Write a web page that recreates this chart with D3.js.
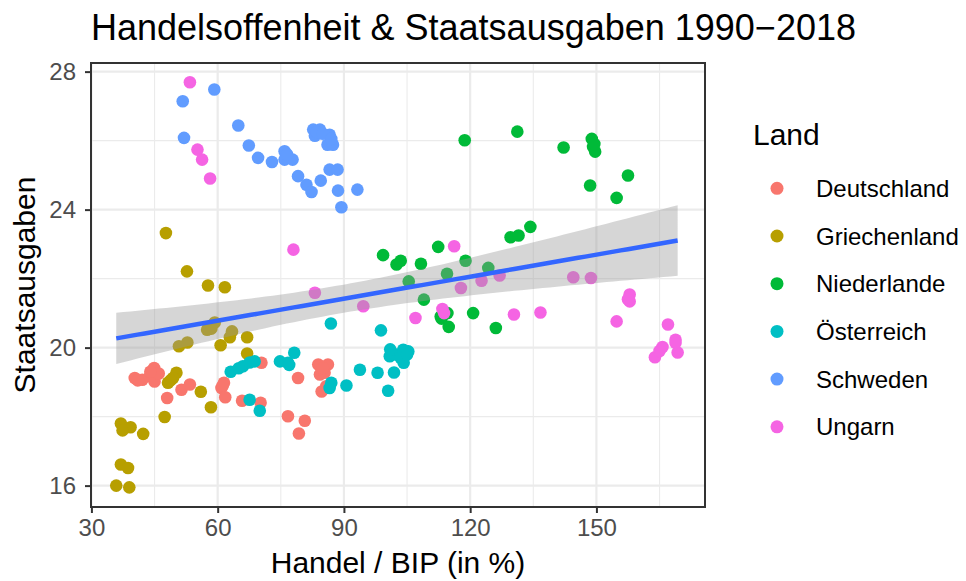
<!DOCTYPE html>
<html>
<head>
<meta charset="utf-8">
<script src="https://cdn.jsdelivr.net/npm/d3@7"></script>
<style>
  body { margin: 0; background: #fff; }
  svg { font-family: "Liberation Sans", Arial, sans-serif; }
</style>
</head>
<body>
<div id="chart"></div>
<script>
// Countries (legend order) and their colours
const laender = ['Deutschland', 'Griechenland', 'Niederlande', 'Österreich', 'Schweden', 'Ungarn'];
const farben = ['#F8766D', '#B79F00', '#00BA38', '#00BFC4', '#619CFF', '#F564E3'];

// Handel / BIP (in %) and Staatsausgaben, 1990-2018
const deutschlandHandel = [40.3, 42.1, 44.9, 43.9, 45.0, 48.0, 51.4, 53.4, 60.9, 61.5, 61.8, 65.8, 70.4, 70.2, 76.7, 79.1, 83.9, 86.2, 84.3, 85.4, 84.7, 85.8, 80.7, 79.3, 41.0, 46.0, 61.2, 85.0, 44.0];
const deutschlandAusgaben = [19.12, 19.07, 19.41, 19.17, 19.02, 18.54, 18.78, 18.93, 18.83, 18.98, 18.56, 18.46, 19.56, 18.40, 18.01, 19.12, 19.51, 19.51, 19.22, 19.27, 18.73, 18.88, 17.88, 17.51, 19.05, 19.25, 18.9, 19.4, 19.3];

const griechenlandHandel = [47.7, 52.7, 57.7, 61.7, 59.3, 57.5, 63.4, 62.9, 67.0, 50.8, 52.8, 60.7, 67.0, 50.2, 48.2, 49.4, 56.0, 58.4, 47.4, 37.0, 39.3, 37.4, 42.3, 37.0, 38.7, 35.9, 39.0, 58.5, 48.8];
const griechenlandAusgaben = [23.32, 22.21, 21.80, 21.75, 20.73, 20.52, 20.47, 20.30, 20.30, 20.04, 20.15, 20.07, 19.83, 19.27, 18.98, 19.12, 18.72, 18.27, 17.99, 17.80, 17.69, 17.60, 17.50, 16.61, 16.51, 16.00, 15.95, 20.55, 19.05];

const niederlandeHandel = [118.7, 131.2, 142.2, 148.9, 149.2, 149.7, 157.5, 148.5, 154.8, 112.4, 99.3, 102.5, 103.5, 108.3, 118.9, 114.5, 105.4, 109.0, 114.6, 113.2, 114.9, 120.7, 124.3, 126.1, 129.6, 131.5, 134.3, 149.5, 113.0];
const niederlandeAusgaben = [26.01, 26.26, 25.80, 26.05, 25.82, 25.68, 24.99, 24.70, 24.34, 22.92, 22.68, 22.41, 22.52, 22.43, 22.52, 22.14, 21.92, 21.39, 21.00, 20.84, 20.60, 21.00, 22.31, 20.57, 23.20, 23.25, 23.50, 25.9, 20.9];

const oesterreichHandel = [63.1, 66.0, 67.6, 68.8, 67.6, 70.0, 74.8, 76.7, 78.2, 87.0, 86.6, 90.6, 93.8, 98.0, 101.9, 100.5, 100.9, 102.5, 104.1, 105.3, 104.2, 86.9, 98.8, 104.1, 103.5, 65.0, 101.0, 77.0, 105.0];
const oesterreichAusgaben = [19.30, 19.46, 19.57, 19.60, 18.49, 18.17, 19.60, 19.56, 19.85, 18.98, 18.83, 18.90, 19.36, 19.27, 19.28, 18.75, 19.75, 19.80, 19.85, 19.89, 19.56, 20.70, 20.50, 19.94, 19.70, 19.40, 19.95, 19.50, 19.80];

const schwedenHandel = [51.7, 59.2, 52.0, 64.9, 67.4, 69.6, 72.9, 75.9, 75.9, 77.8, 82.7, 84.3, 83.1, 86.6, 86.1, 87.4, 79.1, 81.1, 82.3, 84.5, 86.6, 88.5, 88.6, 93.2, 89.4, 83.5, 85.0, 87.0, 76.5];
const schwedenAusgaben = [27.14, 27.48, 26.08, 26.44, 25.86, 25.50, 25.38, 25.69, 25.45, 25.45, 26.32, 26.32, 26.14, 26.17, 25.88, 25.88, 24.97, 24.72, 24.51, 24.84, 25.16, 25.16, 24.55, 24.58, 24.07, 26.25, 26.2, 26.05, 25.6];

const ungarnHandel = [53.4, 55.2, 56.3, 58.2, 78.0, 83.1, 94.6, 107.0, 116.2, 113.4, 117.8, 122.7, 127.0, 130.4, 136.7, 144.5, 148.7, 157.9, 157.9, 154.8, 167.0, 168.8, 169.3, 165.7, 163.9, 168.8, 165.0, 157.5, 113.8];
const ungarnAusgaben = [27.69, 25.74, 25.45, 24.90, 22.84, 21.59, 21.20, 20.86, 22.94, 21.12, 21.73, 21.94, 22.09, 20.96, 21.02, 22.04, 22.02, 21.54, 21.34, 20.76, 20.67, 20.23, 19.86, 20.02, 19.72, 20.14, 19.9, 21.4, 21.0];

// Axis ticks
const xTicks = [30, 60, 90, 120, 150];
const xMinorTicks = [45, 75, 105, 135, 165];
const yTicks = [16, 20, 24, 28];
const yMinorTicks = [18, 22, 26];

const handel = [deutschlandHandel, griechenlandHandel, niederlandeHandel, oesterreichHandel, schwedenHandel, ungarnHandel];
const ausgaben = [deutschlandAusgaben, griechenlandAusgaben, niederlandeAusgaben, oesterreichAusgaben, schwedenAusgaben, ungarnAusgaben];

// Build one flat list of points
function buildPoints() {
    const points = [];
    laender.forEach((land, i) => {
        handel[i].forEach((x, j) => {
            points.push({ land: land, x: x, y: ausgaben[i][j] });
        });
    });
    return points;
}

// Linear model with 95% confidence band (like geom_smooth(method = "lm"))
function linearFit(points) {
    const n = points.length;
    const mx = d3.mean(points, d => d.x);
    const my = d3.mean(points, d => d.y);
    const sxx = d3.sum(points, d => (d.x - mx) ** 2);
    const sxy = d3.sum(points, d => (d.x - mx) * (d.y - my));
    const b = sxy / sxx;
    const a = my - b * mx;
    const rss = d3.sum(points, d => (d.y - a - b * d.x) ** 2);
    const s = Math.sqrt(rss / (n - 2));
    const t = 1.974;
    const [x0, x1] = d3.extent(points, d => d.x);
    return d3.range(80).map(k => {
        const x = x0 + (x1 - x0) * k / 79;
        const fit = a + b * x;
        const se = s * Math.sqrt(1 / n + (x - mx) ** 2 / sxx);
        return { x: x, fit: fit, lo: fit - t * se, hi: fit + t * se };
    });
}

function renderChart(container) {
    const width = 966, height = 581;
    const panel = { left: 91, right: 705, top: 63, bottom: 507 };
    const points = buildPoints();

    const svg = d3.select(container)
        .append('svg')
        .attr('width', width)
        .attr('height', height);

    const x = d3.scaleLinear().domain([29.9, 175.8]).range([panel.left, panel.right]);
    const y = d3.scaleLinear().domain([15.38, 28.25]).range([panel.bottom, panel.top]);
    const color = d3.scaleOrdinal().domain(laender).range(farben);

    // Grid lines
    const grid = svg.append('g');
    grid.selectAll('.xminor').data(xMinorTicks).enter().append('line')
        .attr('x1', d => x(d)).attr('x2', d => x(d))
        .attr('y1', panel.top).attr('y2', panel.bottom)
        .attr('stroke', '#EBEBEB').attr('stroke-width', 1.1);
    grid.selectAll('.yminor').data(yMinorTicks).enter().append('line')
        .attr('y1', d => y(d)).attr('y2', d => y(d))
        .attr('x1', panel.left).attr('x2', panel.right)
        .attr('stroke', '#EBEBEB').attr('stroke-width', 1.1);
    grid.selectAll('.xmajor').data(xTicks).enter().append('line')
        .attr('x1', d => x(d)).attr('x2', d => x(d))
        .attr('y1', panel.top).attr('y2', panel.bottom)
        .attr('stroke', '#EBEBEB').attr('stroke-width', 2.2);
    grid.selectAll('.ymajor').data(yTicks).enter().append('line')
        .attr('y1', d => y(d)).attr('y2', d => y(d))
        .attr('x1', panel.left).attr('x2', panel.right)
        .attr('stroke', '#EBEBEB').attr('stroke-width', 2.2);

    // Points
    svg.append('g').selectAll('circle')
        .data(points)
        .enter()
        .append('circle')
        .attr('cx', d => x(d.x))
        .attr('cy', d => y(d.y))
        .attr('r', 6.3)
        .attr('fill', d => color(d.land));

    // Regression line and confidence band on top of the points
    const fit = linearFit(points);
    svg.append('path')
        .datum(fit)
        .attr('d', d3.area().x(d => x(d.x)).y0(d => y(d.lo)).y1(d => y(d.hi)))
        .attr('fill', '#999999')
        .attr('fill-opacity', 0.4);
    svg.append('path')
        .datum(fit)
        .attr('d', d3.line().x(d => x(d.x)).y(d => y(d.fit)))
        .attr('fill', 'none')
        .attr('stroke', '#3366FF')
        .attr('stroke-width', 4.5);

    // Panel border
    svg.append('rect')
        .attr('x', panel.left).attr('y', panel.top)
        .attr('width', panel.right - panel.left)
        .attr('height', panel.bottom - panel.top)
        .attr('fill', 'none')
        .attr('stroke', '#333333')
        .attr('stroke-width', 2);

    // Axes
    const xAxis = svg.append('g')
        .attr('transform', `translate(0,${panel.bottom})`)
        .call(d3.axisBottom(x).tickValues(xTicks).tickSize(6).tickPadding(6));
    const yAxis = svg.append('g')
        .attr('transform', `translate(${panel.left},0)`)
        .call(d3.axisLeft(y).tickValues(yTicks).tickSize(6).tickPadding(9));
    [xAxis, yAxis].forEach(ax => {
        ax.select('.domain').remove();
        ax.selectAll('line').attr('stroke', '#333333').attr('stroke-width', 2);
        ax.selectAll('text')
            .attr('fill', '#4D4D4D')
            .style('font-size', '24px')
            .style('font-family', '"Liberation Sans", Arial, sans-serif');
    });

    // Titles
    svg.append('text')
        .attr('x', panel.left)
        .attr('y', 40)
        .style('font-size', '36px')
        .text('Handelsoffenheit & Staatsausgaben 1990\u22122018');
    svg.append('text')
        .attr('x', (panel.left + panel.right) / 2)
        .attr('y', 573)
        .attr('text-anchor', 'middle')
        .style('font-size', '30px')
        .text('Handel / BIP (in %)');
    svg.append('text')
        .attr('transform', `translate(35,${(panel.top + panel.bottom) / 2}) rotate(-90)`)
        .attr('text-anchor', 'middle')
        .style('font-size', '30px')
        .text('Staatsausgaben');

    // Legend
    const legend = svg.append('g');
    legend.append('text')
        .attr('x', 753)
        .attr('y', 145)
        .style('font-size', '30px')
        .text('Land');
    const items = legend.selectAll('.item')
        .data(laender)
        .enter()
        .append('g')
        .attr('transform', (d, i) => `translate(777,${188.3 + i * 47.7})`);
    items.append('circle')
        .attr('r', 6.5)
        .attr('fill', d => color(d));
    items.append('text')
        .attr('x', 39)
        .attr('dy', '0.36em')
        .style('font-size', '24px')
        .text(d => d);
}

document.addEventListener('DOMContentLoaded', function () {
    renderChart('#chart');
});
</script>
</body>
</html>
